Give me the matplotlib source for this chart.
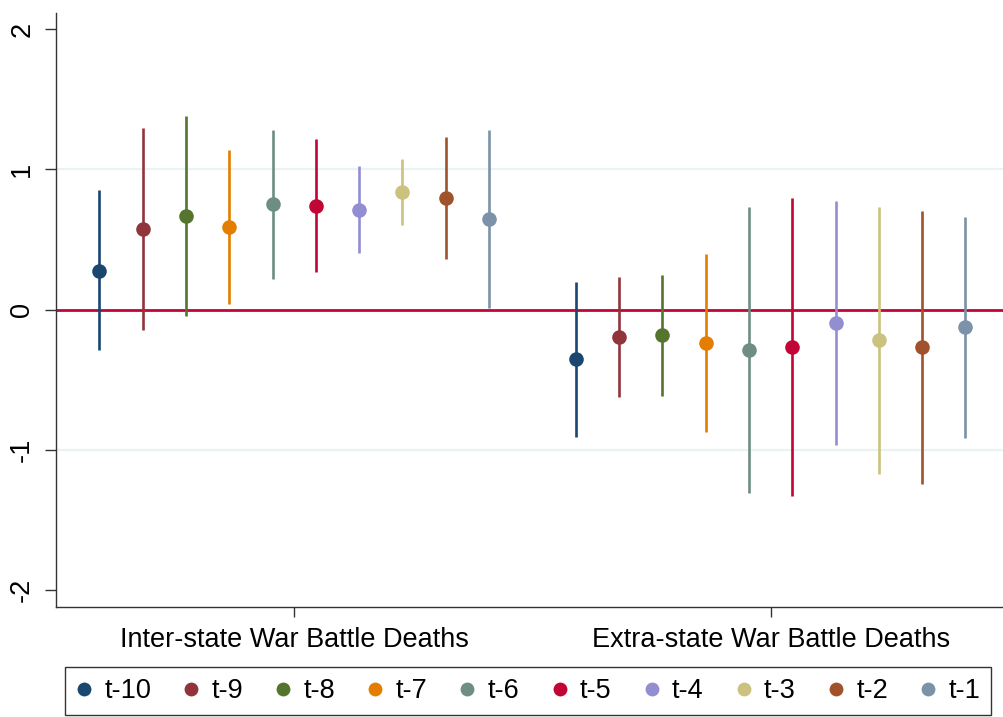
import matplotlib
matplotlib.use("Agg")
import matplotlib.pyplot as plt
import numpy as np

plt.rcParams['font.family'] = ['Liberation Sans', 'DejaVu Sans']

groups = ["Inter-state War Battle Deaths", "Extra-state War Battle Deaths"]
lags = ["t-10", "t-9", "t-8", "t-7", "t-6", "t-5", "t-4", "t-3", "t-2", "t-1"]
colors = ["#1a476f", "#90353b", "#55752f", "#e37e00", "#6e8e84",
          "#c10534", "#938dd2", "#cac27e", "#a0522d", "#7b92a8"]

# point estimates and CI bounds for each lag
est_inter = [0.278, 0.576, 0.668, 0.585, 0.749, 0.740, 0.713, 0.840, 0.794, 0.645]
lo_inter = [-0.287, -0.145, -0.043, 0.036, 0.217, 0.267, 0.402, 0.606, 0.357, 0.014]
hi_inter = [0.849, 1.294, 1.382, 1.134, 1.282, 1.213, 1.020, 1.073, 1.227, 1.277]

est_extra = [-0.354, -0.193, -0.185, -0.240, -0.287, -0.264, -0.097, -0.218, -0.268, -0.126]
lo_extra = [-0.906, -0.625, -0.613, -0.874, -1.310, -1.329, -0.965, -1.172, -1.243, -0.913]
hi_extra = [0.195, 0.231, 0.245, 0.395, 0.732, 0.797, 0.777, 0.732, 0.706, 0.659]

yticks = [-2, -1, 0, 1, 2]

fig = plt.figure(figsize=(10.04, 7.17), dpi=100)
ax = fig.add_axes([56/1004, 1-606.5/717, 1-56/1004, (606.5-13)/717])

centers = np.array([1.0, 2.0])
step = 43.33/476.7
n = len(lags)
for i in range(n):
    off = (i - (n-1)/2) * step
    xs = centers + off
    est = [est_inter[i], est_extra[i]]
    lo = [lo_inter[i], lo_extra[i]]
    hi = [hi_inter[i], hi_extra[i]]
    ax.vlines(xs, lo, hi, color=colors[i], lw=1.9, zorder=3)
    ax.plot(xs, est, 'o', color=colors[i], ms=10.5, mec='none', zorder=4, label=lags[i])

ax.axhline(0, color="#c10534", lw=2.0, zorder=2)
for g in [1, -1]:
    ax.axhline(g, color="#eaf2f3", lw=1.6, zorder=1)

ax.set_ylim(-2.117, 2.114)
ax.set_xlim(0.5, 2.49)
ax.set_yticks(yticks)
ax.set_yticklabels([str(t) for t in yticks])
ax.set_xticks(centers)
ax.set_xticklabels(groups)
for lab in ax.get_yticklabels():
    lab.set_rotation(90)
    lab.set_va('center')
ax.tick_params(axis='y', length=8, width=1, pad=7, labelsize=19.5, color='#333333')
ax.tick_params(axis='x', length=7.5, width=1, pad=7.5, labelsize=19.5, color='#333333')
for s in ['top', 'right']:
    ax.spines[s].set_visible(False)
for s in ['left', 'bottom']:
    ax.spines[s].set_color('#333333')
    ax.spines[s].set_linewidth(1)

leg = fig.legend(loc='center', ncol=10, mode='expand',
                 bbox_to_anchor=(65/1004, 1-716/717, (991-65)/1004, 50/717),
                 fontsize=19.5, frameon=True, fancybox=False, handlelength=0.6,
                 handletextpad=0.45, borderaxespad=0, markerscale=0.95, columnspacing=1.0)
leg.get_frame().set_edgecolor('black')
leg.get_frame().set_linewidth(1)

fig.savefig("out.png", dpi=100)
